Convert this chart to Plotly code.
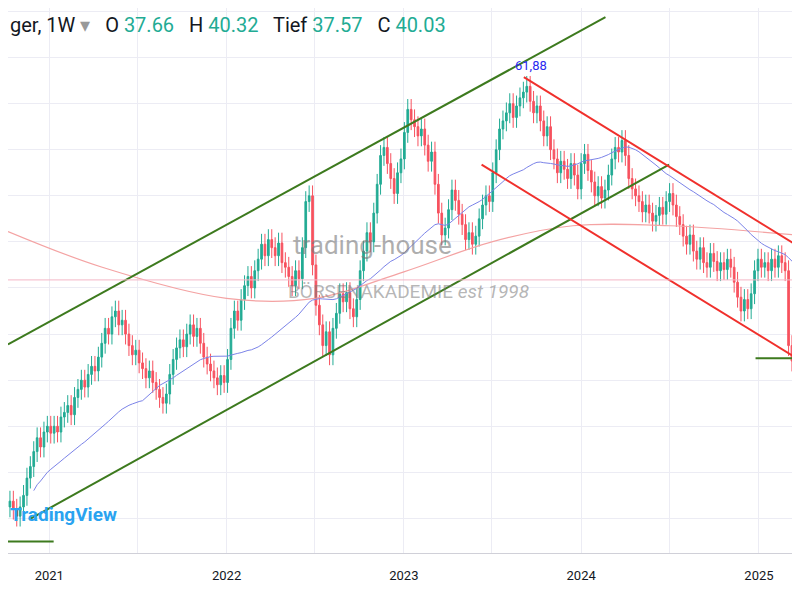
import pandas as pd
import plotly.graph_objects as go

# weekly closes
closes = [
    25.5, 24.8, 24.2, 25.0, 26.0, 27.5, 28.5, 29.8, 31.0, 30.2, 31.5, 32.0, 31.4,
    32.0, 31.5, 32.8, 33.2, 33.8, 33.0, 34.5, 35.2, 36.0, 35.4, 36.5, 37.2, 36.8,
    38.0, 39.2, 40.5, 40.0, 41.5, 42.0, 40.8, 41.2, 40.0, 39.0, 38.2, 38.6, 37.5,
    37.0, 36.2, 36.8, 35.8, 35.2, 34.5, 34.0, 34.8, 36.5, 37.8, 38.8, 39.5, 38.9,
    40.0, 40.8, 39.8, 40.5, 39.2, 38.0, 37.4, 36.8, 36.2, 35.6, 36.4, 35.8, 37.8,
    40.5, 42.0, 41.2, 43.0, 44.2, 45.0, 44.0, 45.5, 46.5, 47.8, 46.8, 48.2, 47.5,
    46.8, 47.9, 46.2, 45.8, 45.0, 44.2, 45.5, 44.8, 47.5, 51.5, 52.0, 46.0,
    42.5, 40.8, 39.0, 40.2, 38.2, 40.5, 41.8, 43.5, 42.8, 43.6, 42.2, 41.5, 43.0,
    45.5, 47.2, 48.8, 48.0, 50.5, 53.0, 55.5, 56.2, 54.8, 53.5, 52.2, 54.0, 55.2,
    57.5, 59.5, 58.6, 58.0, 57.2, 57.8, 56.4, 55.0, 55.8, 53.0, 50.5, 48.6, 49.2,
    50.8, 52.5, 51.6, 50.4, 49.5, 48.2, 48.8, 47.8, 48.5, 50.0, 51.2, 52.0, 51.5,
    54.0, 56.0, 57.8, 58.5, 59.2, 60.0, 58.8, 59.8, 60.5, 61.0, 61.5, 60.2, 59.2,
    59.8, 58.5, 57.2, 58.0, 56.0, 55.2, 54.0, 55.0, 54.3, 53.5, 54.8, 53.8, 52.6,
    54.8, 55.6, 54.2, 53.2, 52.0, 52.8, 51.8, 52.5, 53.8, 55.2, 56.2, 55.8,
    56.8, 55.5, 53.5, 52.6, 52.0, 51.5, 50.6, 51.2, 50.5, 49.8, 50.3, 51.0, 50.4,
    51.5, 52.2, 51.2, 50.2, 49.5, 48.5, 47.8, 48.6, 47.2, 46.5, 47.5, 46.2, 45.8,
    47.0, 46.3, 45.5, 46.2, 45.6, 46.5, 45.8, 44.5, 43.2, 42.0, 43.0, 42.2, 43.5,
    45.5, 46.5, 45.8, 46.2, 45.5, 46.5, 45.8, 46.8, 46.2, 45.5, 39.0, 37.66, 40.03,
]
wick = 0.9

# slow moving average (pink)
ma_slow_dates = ["2020-10-08", "2021-04-20", "2022-01-01", "2022-07-01", "2023-01-01",
                 "2023-07-01", "2023-12-15", "2024-07-01", "2025-04-12"]
ma_slow_vals = [48.9, 45.8, 43.1, 43.1, 45.4, 48.0, 49.4, 49.4, 48.5]

# drawn trend lines: (date0, price0, date1, price1, colour)
trend_lines = [
    ("2020-10-08", 39.1, "2024-02-20", 67.5, "#3d7a1e"),
    ("2020-11-20", 23.9, "2024-06-30", 54.7, "#3d7a1e"),
    ("2020-10-08", 22.0, "2021-01-10", 22.0, "#3d7a1e"),
    ("2024-12-25", 37.9, "2025-04-12", 37.9, "#3d7a1e"),
    ("2023-09-05", 62.3, "2025-04-12", 47.1, "#f0302c"),
    ("2023-06-10", 54.7, "2025-04-12", 37.3, "#f0302c"),
]

dates = pd.date_range(start="2020-10-12", periods=len(closes), freq="7D")
df = pd.DataFrame({"date": dates, "close": closes})
df["open"] = df["close"].shift(1).fillna(df["close"].iloc[0] - 0.5)
df.loc[df.index[-1], "open"] = 37.66
df["high"] = df[["open", "close"]].max(axis=1) + wick
df["low"] = df[["open", "close"]].min(axis=1) - wick
df["ma_fast"] = df["close"].rolling(40, min_periods=8).mean()

fig = go.Figure()
fig.add_trace(go.Scatter(x=ma_slow_dates, y=ma_slow_vals, mode="lines",
                         line=dict(color="#f4a3a3", width=1.2, shape="spline")))
fig.add_trace(go.Scatter(x=df["date"], y=df["ma_fast"], mode="lines",
                         line=dict(color="#7b83e8", width=1)))
fig.add_trace(go.Candlestick(
    x=df["date"], open=df["open"], high=df["high"], low=df["low"], close=df["close"],
    increasing=dict(line=dict(color="#22ab94", width=1), fillcolor="#22ab94"),
    decreasing=dict(line=dict(color="#f7525f", width=1), fillcolor="#f7525f"),
    whiskerwidth=0,
))

for d0, p0, d1, p1, col in trend_lines:
    fig.add_shape(type="line", x0=d0, y0=p0, x1=d1, y1=p1,
                  line=dict(color=col, width=2))
fig.add_hline(y=44.7, line=dict(color="#f4b6c6", width=1))

fig.add_annotation(x="2023-09-20", y=62.3, text="61,88", showarrow=False,
                   yshift=12, font=dict(color="#2a2af0", size=13))
fig.add_annotation(xref="paper", yref="paper", x=0.455, y=0.565, text="trading-house",
                   showarrow=False, font=dict(size=26, color="rgba(120,120,120,0.6)"))
fig.add_annotation(xref="paper", yref="paper", x=0.5, y=0.48, text="BÖRSENAKADEMIE <i>est 1998</i>",
                   showarrow=False, font=dict(size=19, color="rgba(120,120,120,0.55)"))
fig.add_annotation(xref="paper", yref="paper", x=0.0, y=0.045, xanchor="left",
                   text="<b>TradingView</b>", showarrow=False,
                   font=dict(size=19, color="#2aa3f0"))

hdr = ("<span style='color:#131722'>ger, 1W </span><span style='color:#999'>▾</span>"
       "<span style='color:#131722'>   O </span><span style='color:#22ab94'>37.66</span>"
       "<span style='color:#131722'>   H </span><span style='color:#22ab94'>40.32</span>"
       "<span style='color:#131722'>   Tief </span><span style='color:#22ab94'>37.57</span>"
       "<span style='color:#131722'>   C </span><span style='color:#22ab94'>40.03</span>")
fig.add_annotation(xref="paper", yref="paper", x=0.0, y=0.995, xanchor="left",
                   yanchor="top", text=hdr, showarrow=False,
                   font=dict(size=20, family="Roboto"))

fig.update_layout(
    width=800, height=600, showlegend=False,
    margin=dict(l=0, r=0, t=0, b=55),
    plot_bgcolor="white", paper_bgcolor="white",
    font=dict(family="Roboto", color="#131722", size=13),
    xaxis=dict(range=["2020-10-08", "2025-04-12"], rangeslider_visible=False,
               showgrid=True, gridcolor="#ececf4", dtick="M12", tick0="2021-01-01",
               tickformat="%Y", showline=True, linecolor="#d0d0d8",
               minor=dict(dtick="M6", showgrid=True, gridcolor="#ececf4"),
               ticks="", ticklabelstandoff=10),
    yaxis=dict(range=[21.0, 68.3], showgrid=True, gridcolor="#ececf4",
               dtick=4, showticklabels=False, zeroline=False),
)
fig.write_html("out.html")
